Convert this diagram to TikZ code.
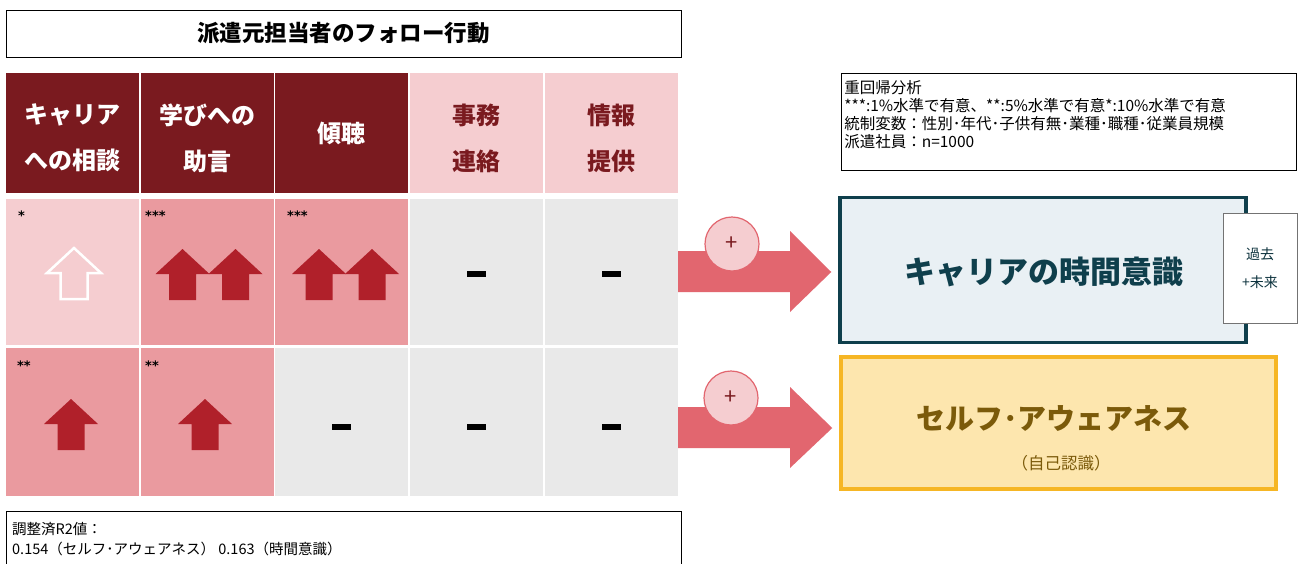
\documentclass[tikz,border=0pt]{standalone}
\usepackage{fontspec}
\setmainfont{Noto Sans CJK JP}
\newfontfamily\starfont{DejaVu Sans}
\usetikzlibrary{calc}
\definecolor{dred}{HTML}{7A1A1F}
\definecolor{lpink}{HTML}{F5CDD0}
\definecolor{mpink}{HTML}{EA9A9F}
\definecolor{lgray}{HTML}{E9E9E9}
\definecolor{ared}{HTML}{B0202A}
\definecolor{bigred}{HTML}{E2666F}
\definecolor{teal}{HTML}{0F3F4C}
\definecolor{tealfill}{HTML}{E9F0F4}
\definecolor{gold}{HTML}{F6B624}
\definecolor{goldfill}{HTML}{FDE6AE}
\definecolor{goldtext}{HTML}{7B5A0A}
\newcommand\UpArr[3]{\path[#1] (#2,#3) -- ++(27,25) -- ++(-13.5,0) -- ++(0,26) -- ++(-27,0) -- ++(0,-26) -- ++(-13.5,0) -- cycle;}
\begin{document}
\begin{tikzpicture}[x=1pt,y=-1pt,
  cell/.style={minimum width=133pt,inner sep=0pt,align=center},
  hcell/.style={cell,minimum height=120pt,font=\fontsize{24}{46}\selectfont\bfseries},
  htext/.style={inner sep=0pt,align=center,font=\fontsize{24}{46}\selectfont\bfseries},
  rcell/.style={cell,minimum height=146pt},
  star/.style={anchor=base west,inner sep=0pt,font=\starfont\bfseries\fontsize{13}{13}\selectfont},
  dashmark/.style={fill=black,minimum width=19pt,minimum height=6pt,inner sep=0pt},
  plusc/.style={circle,draw=bigred,line width=1.2pt,fill=lpink,minimum size=54pt,inner sep=0pt,text=dred,font=\fontsize{22}{22}\selectfont},
  bigarrow/.style={fill=bigred},
  txt/.style={inner sep=0pt}]
\useasboundingbox (0,0) rectangle (1300,563);
\fill[white] (0,0) rectangle (1300,563);
% title
\node[draw=black,line width=1pt,minimum width=675pt,minimum height=47pt,inner sep=0pt,font=\fontsize{22.5}{22.5}\selectfont\bfseries] (title) at (343.5,33.5) {派遣元担当者のフォロー行動};
% header
\node[hcell,fill=dred] (h1) at (72.5,133) {};
\node[hcell,fill=dred] (h2) at (207,133) {};
\node[hcell,fill=dred] (h3) at (341.5,133) {};
\node[hcell,fill=lpink] (h4) at (476.5,133) {};
\node[hcell,fill=lpink] (h5) at (611.5,133) {};
\node[htext,text=white] (h1t) at ($(h1.center)+(0,5)$) {キャリア\\への相談};
\node[htext,text=white] (h2t) at ($(h2.center)+(0,5)$) {学びへの\\助言};
\node[htext,text=white] (h3t) at ($(h3.center)+(0,0)$) {傾聴};
\node[htext,text=dred] (h4t) at ($(h4.center)+(0,5)$) {事務\\連絡};
\node[htext,text=dred] (h5t) at ($(h5.center)+(0,5)$) {情報\\提供};
% row 1
\node[rcell,fill=lpink] (a1) at (72.5,272) {};
\node[rcell,fill=mpink] (a2) at (207,272) {};
\node[rcell,fill=mpink] (a3) at (341.5,272) {};
\node[rcell,fill=lgray] (a4) at (476.5,272) {};
\node[rcell,fill=lgray] (a5) at (611.5,272) {};
% row 2
\node[rcell,fill=mpink,minimum height=148pt] (b1) at (72.5,422) {};
\node[rcell,fill=mpink,minimum height=148pt] (b2) at (207,422) {};
\node[rcell,fill=lgray,minimum height=148pt] (b3) at (341.5,422) {};
\node[rcell,fill=lgray,minimum height=148pt] (b4) at (476.5,422) {};
\node[rcell,fill=lgray,minimum height=148pt] (b5) at (611.5,422) {};
% stars
\node[star] (s1) at (18,220) {*};
\node[star] (s2) at (145,220) {***};
\node[star] (s3) at (287,220) {***};
\node[star] (s4) at (17,370) {**};
\node[star] (s5) at (145,370) {**};
% arrows in cells
\UpArr{draw=white,line width=2.5pt,line join=miter}{74}{248}
\UpArr{fill=ared}{182.5}{249}
\UpArr{fill=ared}{235.5}{249}
\UpArr{fill=ared}{319}{249}
\UpArr{fill=ared}{372}{249}
\UpArr{fill=ared}{71}{399}
\UpArr{fill=ared}{205}{399}
% dashes
\node[dashmark] (d1) at (476,274) {};
\node[dashmark] (d2) at (611,274) {};
\node[dashmark] (d3) at (341,427) {};
\node[dashmark] (d4) at (476,427) {};
\node[dashmark] (d5) at (611,427) {};
% note box
\node[draw=black,line width=0.8pt,minimum width=455pt,minimum height=97pt,inner sep=0pt] (note) at (1069,121.5) {};
\node[txt,anchor=north west,align=left,font=\fontsize{15.5}{17.8}\selectfont] (notetext) at ($(note.north west)+(3,8)$) {重回帰分析\\***:1\%水準で有意、**:5\%水準で有意*:10\%水準で有意\\統制変数：性別･年代･子供有無･業種･職種･従業員規模\\派遣社員：n=1000};
% target boxes
\node[draw=teal,line width=3.5pt,fill=tealfill,minimum width=406pt,minimum height=145pt,inner sep=0pt] (time) at (1043,270) {};
\node[txt,text=teal,font=\fontsize{31}{31}\selectfont\bfseries] (timetext) at (1044,272) {キャリアの時間意識};
\node[draw=black!55,line width=0.8pt,fill=white,minimum width=74pt,minimum height=110pt,inner sep=0pt,align=center,text=teal!80!black,font=\fontsize{14}{28}\selectfont] (past) at (1260,268) {過去\\+未来};
\node[draw=gold,line width=3.5pt,fill=goldfill,minimum width=435pt,minimum height=132pt,inner sep=0pt] (self) at (1058.5,423) {};
\node[txt,text=goldtext,font=\fontsize{29}{29}\selectfont\bfseries] (selftext) at (1054,419) {セルフ･アウェアネス};
\node[txt,text=goldtext,font=\fontsize{16.5}{16.5}\selectfont] (selfsub) at (1061,463) {（自己認識）};
% big arrows
\coordinate (t1) at ($(time.west)+(-7,2)$);
\coordinate (t2) at ($(self.west)+(-7,5)$);
\fill[bigarrow] (a5.east |- 0,251) -- (790,251) -- (790,231) -- (t1) -- (790,312) -- (790,292) -- (a5.east |- 0,292) -- cycle;
\fill[bigarrow] (b5.east |- 0,407) -- (790,407) -- (790,387) -- (t2) -- (790,468) -- (790,448) -- (b5.east |- 0,448) -- cycle;
\node[plusc] (p1) at (732,244) {+};
\node[plusc] (p2) at (731,398) {+};
% bottom box
\draw[black,line width=0.8pt] (6,570) -- (6,511) -- (681,511) -- (681,570);
\node[txt,anchor=north west,align=left,font=\fontsize{14.5}{20}\selectfont] (r2) at (12,522) {調整済R2値：\\0.154（セルフ･アウェアネス） 0.163（時間意識）};
\end{tikzpicture}
\end{document}
